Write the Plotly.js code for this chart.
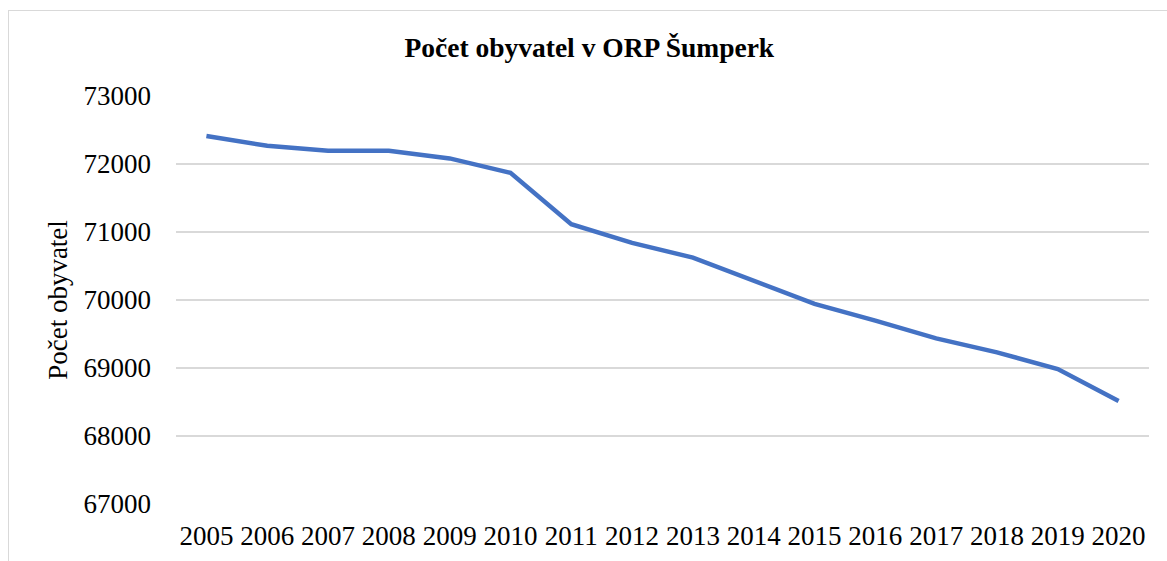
<!DOCTYPE html>
<html>
<head>
<meta charset="utf-8">
<script src="https://cdn.plot.ly/plotly-3.0.1.min.js"></script>
<style>
  html, body { margin: 0; padding: 0; background: #ffffff; }
  #wrap { position: relative; width: 1167px; height: 561px; overflow: hidden; }
  #chart { position: absolute; left: 0; top: 0; width: 1167px; height: 561px; }
  #frame { position: absolute; left: 8px; top: 10px; width: 1200px; height: 600px;
           border-left: 1.5px solid #d9d9d9; border-top: 1.5px solid #d9d9d9; pointer-events: none; }
</style>
</head>
<body>
<div id="wrap">
  <div id="chart"></div>
  <div id="frame"></div>
</div>
<script>
const years = ["2005","2006","2007","2008","2009","2010","2011","2012","2013","2014","2015","2016","2017","2018","2019","2020"];
const population = [72411, 72268, 72194, 72196, 72082, 71870, 71115, 70840, 70624, 70277, 69944, 69697, 69436, 69230, 68985, 68515];
const yTicks = [67000, 68000, 69000, 70000, 71000, 72000, 73000];
const chartTitle = "Počet obyvatel v ORP Šumperk";
const yTitle = "Počet obyvatel";

const font = "Liberation Serif, Times New Roman, serif";

Plotly.newPlot("chart", [{
  type: "scatter",
  mode: "lines",
  x: years,
  y: population,
  line: { color: "#4472C4", width: 4.5 },
  hoverinfo: "x+y"
}], {
  width: 1167,
  height: 561,
  paper_bgcolor: "rgba(0,0,0,0)",
  plot_bgcolor: "#ffffff",
  margin: { l: 176, r: 18, t: 96, b: 57 },
  showlegend: false,
  title: {
    text: "<b>" + chartTitle + "</b>",
    font: { family: font, size: 27.5, color: "#000000" },
    xref: "container", x: 0.505, xanchor: "center",
    yref: "container", y: 1 - 47 / 561, yanchor: "middle"
  },
  xaxis: {
    type: "category",
    range: [-0.5, 15.5],
    showgrid: false,
    zeroline: false,
    showline: false,
    ticks: "",
    tickfont: { family: font, size: 27, color: "#000000" },
    ticklabelstandoff: 13,
    fixedrange: true
  },
  yaxis: {
    range: [67000, 73000],
    tickvals: yTicks,
    ticktext: yTicks.map(String),
    showgrid: true,
    gridcolor: "#d9d9d9",
    gridwidth: 1.3,
    zeroline: false,
    showline: false,
    ticks: "",
    tickfont: { family: font, size: 27, color: "#000000" },
    ticklabelstandoff: 24,
    title: {
      text: yTitle,
      font: { family: font, size: 27, color: "#000000" },
      standoff: 8
    },
    fixedrange: true
  }
}, { displayModeBar: false, staticPlot: true });
</script>
</body>
</html>
